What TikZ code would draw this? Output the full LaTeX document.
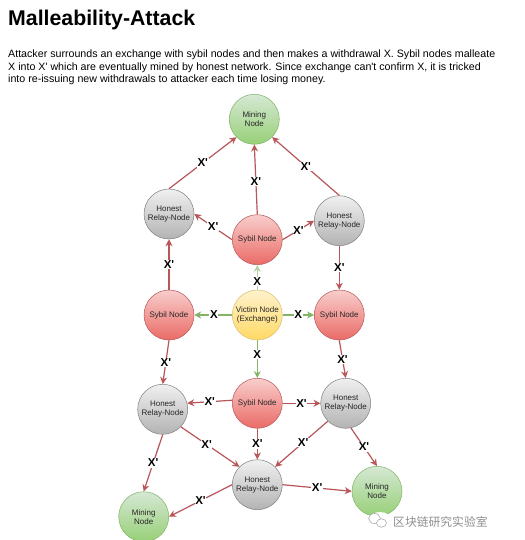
\documentclass[tikz,border=0pt]{standalone}
\usepackage{fontspec}
\setmainfont{Liberation Sans}[Ligatures=TeXOff]
\newfontfamily\cjkfont{Noto Sans CJK SC}
\usepackage{tikz}
\usepackage{xcolor}
\usetikzlibrary{arrows.meta}
\definecolor{Red_Edge}{HTML}{B8565A}
\definecolor{Green_Edge}{HTML}{82B366}
\definecolor{Mark_Gray}{HTML}{A8A8A8}
\definecolor{Mining_Top}{HTML}{D5E8D4}
\definecolor{Mining_Low}{HTML}{97D077}
\definecolor{Sybil_Top}{HTML}{F8CECC}
\definecolor{Sybil_Low}{HTML}{EA6B66}
\definecolor{Honest_Top}{HTML}{F0F0F0}
\definecolor{Honest_Low}{HTML}{B3B3B3}
\definecolor{Victim_Top}{HTML}{FFF2CC}
\definecolor{Victim_Low}{HTML}{FFD966}
\tikzset{
    peer/.style={circle, minimum size=50pt, inner sep=0pt, align=center, text=black!85, line width=0.5pt, font=\fontsize{8}{9}\selectfont},
    mining/.style={peer, draw=Green_Edge, top color=Mining_Top, bottom color=Mining_Low},
    honest/.style={peer, draw=gray, top color=Honest_Top, bottom color=Honest_Low},
    sybil/.style={peer, draw=Red_Edge, top color=Sybil_Top, bottom color=Sybil_Low},
    victim/.style={peer, draw=Victim_Low!70!gray, top color=Victim_Top, bottom color=Victim_Low},
    redline/.style={draw=Red_Edge, line width=1.2pt, -{Stealth[length=7pt,width=7pt]}},
    greenline/.style={draw=Green_Edge, line width=1.2pt, -{Stealth[length=7pt,width=7pt]}},
    tag/.style={fill=white, inner sep=0.6pt, text=black, font=\fontsize{11.5}{12}\selectfont\bfseries},
    bodyline/.style={anchor=west, inner sep=0pt, font=\fontsize{10.66}{12}\selectfont}
}
\begin{document}
\begin{tikzpicture}[x=1pt, y=-1pt]
    \useasboundingbox[fill=white] (0,0) rectangle (524,540);

    % Heading
    \node[anchor=west, inner sep=0pt, font=\fontsize{21.3}{24}\selectfont\bfseries] (title) at (8,20) {Malleability-Attack};
    \node[bodyline] (line1) at (8,54.5) {Attacker surrounds an exchange with sybil nodes and then makes a withdrawal X. Sybil nodes malleate};
    \node[bodyline] (line2) at (8,67.5) {X into X' which are eventually mined by honest network. Since exchange can't confirm X, it is tricked};
    \node[bodyline] (line3) at (8,80) {into re-issuing new withdrawals to attacker each time losing money.};

    % Upper half
    \node[mining] (miningtop) at (254.3,119.3) {Mining\\Node};
    \node[honest] (honestleft) at (169,214) {Honest\\Relay-Node};
    \node[sybil] (sybiltop) at (257.3,239.7) {Sybil Node};
    \node[honest] (honestright) at (339.3,220.7) {Honest\\Relay-Node};

    % Middle row
    \node[sybil] (sybilleft) at (169,315) {Sybil Node};
    \node[victim] (exchange) at (257.3,315) {Victim Node\\(Exchange)};
    \node[sybil] (sybilright) at (339.3,315) {Sybil Node};

    % Lower half
    \node[sybil] (sybilmid) at (257.3,403.3) {Sybil Node};
    \node[honest] (honestlow) at (162.7,409.3) {Honest\\Relay-Node};
    \node[honest] (honestnext) at (345.7,403.3) {Honest\\Relay-Node};
    \node[honest] (honestbottom) at (257.3,484.7) {Honest\\Relay-Node};
    \node[mining] (miningleft) at (143.7,516.7) {Mining\\Node};
    \node[mining] (miningright) at (377,491.3) {Mining\\Node};

    % Withdrawal X from the exchange
    \draw[greenline, draw=Green_Edge!60] (exchange.north) -- node[tag, pos=0.35] (xa) {X} (sybiltop.south);
    \draw[greenline] (exchange.west) -- node[tag, pos=0.48] (xb) {X} (sybilleft.east);
    \draw[greenline] (exchange.east) -- node[tag] (xc) {X} (sybilright.west);
    \draw[greenline] (exchange.south) -- node[tag, pos=0.37] (xd) {X} (sybilmid.north);

    % Malleated X' going up
    \draw[redline] (honestleft.north) -- node[tag] (ya) {X'} (miningtop.225);
    \draw[redline] (sybiltop.north) -- node[tag, pos=0.47] (yb) {X'} (miningtop.south);
    \draw[redline] (honestright.north) -- node[tag] (yc) {X'} (miningtop.315);
    \draw[redline] (sybiltop.180) -- node[tag] (yd) {X'} (honestleft.0);
    \draw[redline] (sybiltop.0) -- node[tag] (ye) {X'} (honestright.180);
    \draw[redline] (sybilleft.north) -- node[tag] (yf) {X'} (honestleft.south);
    \draw[redline] (honestright.south) -- node[tag] (yg) {X'} (sybilright.north);

    % Malleated X' going down
    \draw[redline] (sybilleft.south) -- node[tag] (za) {X'} (honestlow.north);
    \draw[redline] (sybilright.south) -- node[tag] (zb) {X'} (honestnext.north);
    \draw[redline] (sybilmid.173) -- node[tag] (zc) {X'} (honestlow.14);
    \draw[redline] (sybilmid.east) -- node[tag] (zd) {X'} (honestnext.west);
    \draw[redline] (sybilmid.south) -- node[tag] (ze) {X'} (honestbottom.north);
    \draw[redline] (honestlow.-44) -- node[tag, pos=0.44] (zf) {X'} (honestbottom.135);
    \draw[redline] (honestnext.225) -- node[tag, pos=0.47] (zg) {X'} (honestbottom.45);
    \draw[redline] (honestnext.-78) -- node[tag] (zh) {X'} (miningright.north);
    \draw[redline] (honestlow.south) -- node[tag] (zi) {X'} (miningleft.north);
    \draw[redline] (honestbottom.west) -- node[tag] (zj) {X'} (miningleft.east);
    \draw[redline] (honestbottom.east) -- node[tag] (zk) {X'} (miningright.west);

    % Watermark
    \fill[white] (380,521) ellipse (12 and 9);
    \draw[Mark_Gray, fill=white, line width=0.6pt] (374.5,518.5) ellipse (5.8 and 5);
    \draw[Mark_Gray, fill=white, line width=0.6pt] (381.5,523) ellipse (5 and 4.2);
    \node[anchor=west, inner sep=0pt, text=Mark_Gray!85!black, font=\cjkfont\fontsize{11.8}{12}\selectfont] (mark) at (393,521.5) {区块链研究实验室};
\end{tikzpicture}
\end{document}
